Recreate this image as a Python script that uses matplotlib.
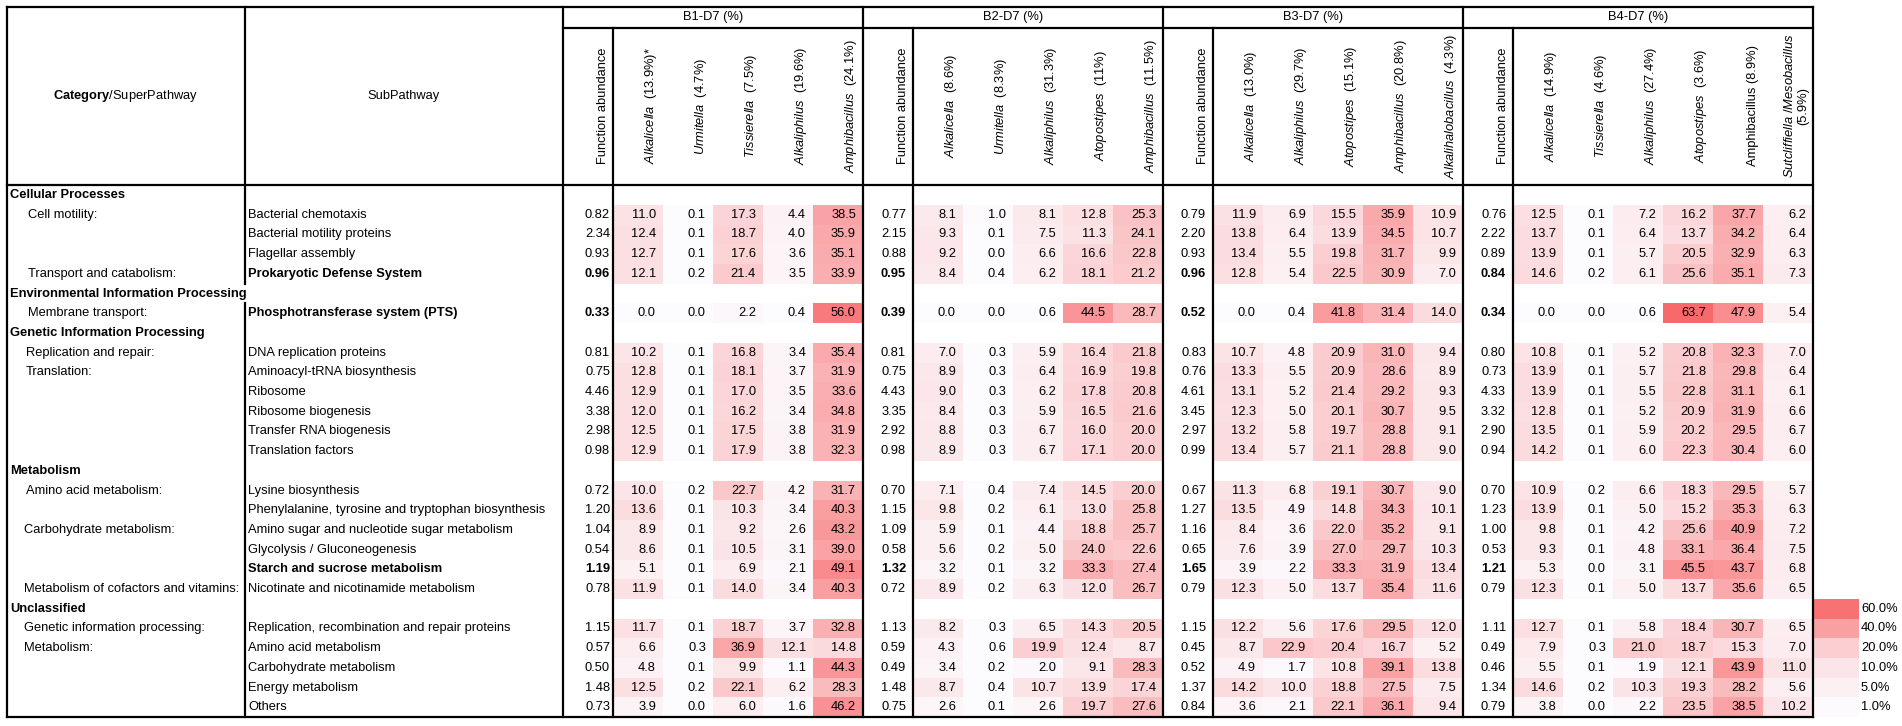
import numpy as np
import matplotlib
matplotlib.use("Agg")
import matplotlib.pyplot as plt
from matplotlib.colors import LinearSegmentedColormap, Normalize

plt.rcParams['font.family'] = ['Liberation Sans', 'DejaVu Sans']
plt.rcParams['mathtext.fontset'] = 'custom'
plt.rcParams['mathtext.rm'] = 'Liberation Sans'
plt.rcParams['mathtext.it'] = 'Liberation Sans:italic'
plt.rcParams['mathtext.bf'] = 'Liberation Sans:bold'

# ---- table content ----
categories = ["Cellular Processes", "Environmental Information Processing",
              "Genetic Information Processing", "Metabolism", "Unclassified"]
cat_sizes = [4, 1, 6, 6, 5]

super_labels = ["Cell motility:", "", "", "Transport and catabolism:",
                "Membrane transport:",
                "Replication and repair:", "Translation:", "", "", "", "",
                "Amino acid metabolism:", "", "Carbohydrate metabolism:", "", "",
                "Metabolism of cofactors and vitamins:",
                "Genetic information processing:", "Metabolism:", "", "", ""]

sub_labels = ["Bacterial chemotaxis", "Bacterial motility proteins", "Flagellar assembly",
              "Prokaryotic Defense System", "Phosphotransferase system (PTS)",
              "DNA replication proteins", "Aminoacyl-tRNA biosynthesis", "Ribosome",
              "Ribosome biogenesis", "Transfer RNA biogenesis", "Translation factors",
              "Lysine biosynthesis", "Phenylalanine, tyrosine and tryptophan biosynthesis",
              "Amino sugar and nucleotide sugar metabolism", "Glycolysis / Gluconeogenesis",
              "Starch and sucrose metabolism", "Nicotinate and nicotinamide metabolism",
              "Replication, recombination and repair proteins", "Amino acid metabolism",
              "Carbohydrate metabolism", "Energy metabolism", "Others"]
bold_rows = [3, 4, 15]

group_titles = ["B1-D7 (%)", "B2-D7 (%)", "B3-D7 (%)", "B4-D7 (%)"]

# B1-D7
b1_taxa = [r"$\mathit{Alkalicella}$  (13.9%)*", r"$\mathit{Urmitella}$  (4.7%)",
           r"$\mathit{Tissierella}$  (7.5%)", r"$\mathit{Alkaliphilus}$  (19.6%)",
           r"$\mathit{Amphibacillus}$  (24.1%)"]
b1_func = [0.82, 2.34, 0.93, 0.96, 0.33, 0.81, 0.75, 4.46, 3.38, 2.98, 0.98,
           0.72, 1.20, 1.04, 0.54, 1.19, 0.78, 1.15, 0.57, 0.50, 1.48, 0.73]
b1_alkalicella = [11.0, 12.4, 12.7, 12.1, 0.0, 10.2, 12.8, 12.9, 12.0, 12.5, 12.9,
                  10.0, 13.6, 8.9, 8.6, 5.1, 11.9, 11.7, 6.6, 4.8, 12.5, 3.9]
b1_urmitella = [0.1, 0.1, 0.1, 0.2, 0.0, 0.1, 0.1, 0.1, 0.1, 0.1, 0.1,
                0.2, 0.1, 0.1, 0.1, 0.1, 0.1, 0.1, 0.3, 0.1, 0.2, 0.0]
b1_tissierella = [17.3, 18.7, 17.6, 21.4, 2.2, 16.8, 18.1, 17.0, 16.2, 17.5, 17.9,
                  22.7, 10.3, 9.2, 10.5, 6.9, 14.0, 18.7, 36.9, 9.9, 22.1, 6.0]
b1_alkaliphilus = [4.4, 4.0, 3.6, 3.5, 0.4, 3.4, 3.7, 3.5, 3.4, 3.8, 3.8,
                   4.2, 3.4, 2.6, 3.1, 2.1, 3.4, 3.7, 12.1, 1.1, 6.2, 1.6]
b1_amphibacillus = [38.5, 35.9, 35.1, 33.9, 56.0, 35.4, 31.9, 33.6, 34.8, 31.9, 32.3,
                    31.7, 40.3, 43.2, 39.0, 49.1, 40.3, 32.8, 14.8, 44.3, 28.3, 46.2]

# B2-D7
b2_taxa = [r"$\mathit{Alkalicella}$  (8.6%)", r"$\mathit{Urmitella}$  (8.3%)",
           r"$\mathit{Alkaliphilus}$  (31.3%)", r"$\mathit{Atopostipes}$  (11%)",
           r"$\mathit{Amphibacillus}$  (11.5%)"]
b2_func = [0.77, 2.15, 0.88, 0.95, 0.39, 0.81, 0.75, 4.43, 3.35, 2.92, 0.98,
           0.70, 1.15, 1.09, 0.58, 1.32, 0.72, 1.13, 0.59, 0.49, 1.48, 0.75]
b2_alkalicella = [8.1, 9.3, 9.2, 8.4, 0.0, 7.0, 8.9, 9.0, 8.4, 8.8, 8.9,
                  7.1, 9.8, 5.9, 5.6, 3.2, 8.9, 8.2, 4.3, 3.4, 8.7, 2.6]
b2_urmitella = [1.0, 0.1, 0.0, 0.4, 0.0, 0.3, 0.3, 0.3, 0.3, 0.3, 0.3,
                0.4, 0.2, 0.1, 0.2, 0.1, 0.2, 0.3, 0.6, 0.2, 0.4, 0.1]
b2_alkaliphilus = [8.1, 7.5, 6.6, 6.2, 0.6, 5.9, 6.4, 6.2, 5.9, 6.7, 6.7,
                   7.4, 6.1, 4.4, 5.0, 3.2, 6.3, 6.5, 19.9, 2.0, 10.7, 2.6]
b2_atopostipes = [12.8, 11.3, 16.6, 18.1, 44.5, 16.4, 16.9, 17.8, 16.5, 16.0, 17.1,
                  14.5, 13.0, 18.8, 24.0, 33.3, 12.0, 14.3, 12.4, 9.1, 13.9, 19.7]
b2_amphibacillus = [25.3, 24.1, 22.8, 21.2, 28.7, 21.8, 19.8, 20.8, 21.6, 20.0, 20.0,
                    20.0, 25.8, 25.7, 22.6, 27.4, 26.7, 20.5, 8.7, 28.3, 17.4, 27.6]

# B3-D7
b3_taxa = [r"$\mathit{Alkalicella}$  (13.0%)", r"$\mathit{Alkaliphilus}$  (29.7%)",
           r"$\mathit{Atopostipes}$  (15.1%)", r"$\mathit{Amphibacillus}$  (20.8%)",
           r"$\mathit{Alkalihalobacillus}$  (4.3%)"]
b3_func = [0.79, 2.20, 0.93, 0.96, 0.52, 0.83, 0.76, 4.61, 3.45, 2.97, 0.99,
           0.67, 1.27, 1.16, 0.65, 1.65, 0.79, 1.15, 0.45, 0.52, 1.37, 0.84]
b3_alkalicella = [11.9, 13.8, 13.4, 12.8, 0.0, 10.7, 13.3, 13.1, 12.3, 13.2, 13.4,
                  11.3, 13.5, 8.4, 7.6, 3.9, 12.3, 12.2, 8.7, 4.9, 14.2, 3.6]
b3_alkaliphilus = [6.9, 6.4, 5.5, 5.4, 0.4, 4.8, 5.5, 5.2, 5.0, 5.8, 5.7,
                   6.8, 4.9, 3.6, 3.9, 2.2, 5.0, 5.6, 22.9, 1.7, 10.0, 2.1]
b3_atopostipes = [15.5, 13.9, 19.8, 22.5, 41.8, 20.9, 20.9, 21.4, 20.1, 19.7, 21.1,
                  19.1, 14.8, 22.0, 27.0, 33.3, 13.7, 17.6, 20.4, 10.8, 18.8, 22.1]
b3_amphibacillus = [35.9, 34.5, 31.7, 30.9, 31.4, 31.0, 28.6, 29.2, 30.7, 28.8, 28.8,
                    30.7, 34.3, 35.2, 29.7, 31.9, 35.4, 29.5, 16.7, 39.1, 27.5, 36.1]
b3_alkalihalobacillus = [10.9, 10.7, 9.9, 7.0, 14.0, 9.4, 8.9, 9.3, 9.5, 9.1, 9.0,
                         9.0, 10.1, 9.1, 10.3, 13.4, 11.6, 12.0, 5.2, 13.8, 7.5, 9.4]

# B4-D7
b4_taxa = [r"$\mathit{Alkalicella}$  (14.9%)", r"$\mathit{Tissierella}$  (4.6%)",
           r"$\mathit{Alkaliphilus}$  (27.4%)", r"$\mathit{Atopostipes}$  (3.6%)",
           "Amphibacillus (8.9%)", "$\\mathit{Sutcliffiella\\ /Mesobacillus}$\n(5.9%)"]
b4_func = [0.76, 2.22, 0.89, 0.84, 0.34, 0.80, 0.73, 4.33, 3.32, 2.90, 0.94,
           0.70, 1.23, 1.00, 0.53, 1.21, 0.79, 1.11, 0.49, 0.46, 1.34, 0.79]
b4_alkalicella = [12.5, 13.7, 13.9, 14.6, 0.0, 10.8, 13.9, 13.9, 12.8, 13.5, 14.2,
                  10.9, 13.9, 9.8, 9.3, 5.3, 12.3, 12.7, 7.9, 5.5, 14.6, 3.8]
b4_tissierella = [0.1, 0.1, 0.1, 0.2, 0.0, 0.1, 0.1, 0.1, 0.1, 0.1, 0.1,
                  0.2, 0.1, 0.1, 0.1, 0.0, 0.1, 0.1, 0.3, 0.1, 0.2, 0.0]
b4_alkaliphilus = [7.2, 6.4, 5.7, 6.1, 0.6, 5.2, 5.7, 5.5, 5.2, 5.9, 6.0,
                   6.6, 5.0, 4.2, 4.8, 3.1, 5.0, 5.8, 21.0, 1.9, 10.3, 2.2]
b4_atopostipes = [16.2, 13.7, 20.5, 25.6, 63.7, 20.8, 21.8, 22.8, 20.9, 20.2, 22.3,
                  18.3, 15.2, 25.6, 33.1, 45.5, 13.7, 18.4, 18.7, 12.1, 19.3, 23.5]
b4_amphibacillus = [37.7, 34.2, 32.9, 35.1, 47.9, 32.3, 29.8, 31.1, 31.9, 29.5, 30.4,
                    29.5, 35.3, 40.9, 36.4, 43.7, 35.6, 30.7, 15.3, 43.9, 28.2, 38.5]
b4_sutcliffiella = [6.2, 6.4, 6.3, 7.3, 5.4, 7.0, 6.4, 6.1, 6.6, 6.7, 6.0,
                    5.7, 6.3, 7.2, 7.5, 6.8, 6.5, 6.5, 7.0, 11.0, 5.6, 10.2]

legend_values = [60.0, 40.0, 20.0, 10.0, 5.0, 1.0]

groups = [
    (group_titles[0], b1_taxa, b1_func,
     [b1_alkalicella, b1_urmitella, b1_tissierella, b1_alkaliphilus, b1_amphibacillus]),
    (group_titles[1], b2_taxa, b2_func,
     [b2_alkalicella, b2_urmitella, b2_alkaliphilus, b2_atopostipes, b2_amphibacillus]),
    (group_titles[2], b3_taxa, b3_func,
     [b3_alkalicella, b3_alkaliphilus, b3_atopostipes, b3_amphibacillus, b3_alkalihalobacillus]),
    (group_titles[3], b4_taxa, b4_func,
     [b4_alkalicella, b4_tissierella, b4_alkaliphilus, b4_atopostipes, b4_amphibacillus,
      b4_sutcliffiella]),
]

# ---- layout (pixels) ----
FS = 9.3
X_LEFT, X_CAT, X_SUB = 7, 245, 563
COL_W = 50
Y_TOP, Y_GRP, Y_HEAD = 7, 28, 185.2
ROW_H = 19.7
LW = 1.6

table_rows = []
k = 0
for cat, n in zip(categories, cat_sizes):
    table_rows.append(('cat', cat))
    for _ in range(n):
        table_rows.append(('data', k))
        k += 1
n_rows = len(table_rows)
data_pos = np.array([r for r, (kind, _) in enumerate(table_rows) if kind == 'data'])
row_edges = Y_HEAD + ROW_H * np.arange(n_rows + 1)
row_mid = (row_edges[:-1] + row_edges[1:]) / 2
Y_BOT = row_edges[-1]

cmap = LinearSegmentedColormap.from_list('wr', ['#FCFCFF', '#F8696B'])
vmax = max(max(v) for g in groups for v in g[3])
norm = Normalize(0, vmax)

fig = plt.figure(figsize=(19.02, 7.26), dpi=100)
ax = fig.add_axes([0, 0, 1, 1])
ax.set_xlim(0, 1902)
ax.set_ylim(726, 0)
ax.axis('off')

# left columns
ax.text((X_LEFT + X_CAT) / 2, 96, r"$\mathbf{Category}$/SuperPathway", ha='center', va='center', fontsize=FS)
ax.text((X_CAT + X_SUB) / 2, 96, "SubPathway", ha='center', va='center', fontsize=FS)
indent = {0: 28, 1: 28, 2: 26, 3: 24, 4: 24}
for r, (kind, val) in enumerate(table_rows):
    if kind == 'cat':
        ax.text(10, row_mid[r], val, ha='left', va='center', fontsize=FS, fontweight='bold')
        cur_cat = categories.index(val)
    else:
        if super_labels[val]:
            x_ind = indent[cur_cat]
            if super_labels[val] == "Amino acid metabolism:":
                x_ind = 26
            ax.text(x_ind, row_mid[r], super_labels[val], ha='left', va='center', fontsize=FS)
        ax.text(248, row_mid[r], sub_labels[val], ha='left', va='center', fontsize=FS,
                fontweight='bold' if val in bold_rows else 'normal')

# groups
x = X_SUB
group_bounds = [x]
func_lines = []
for gi, (title, taxa, func, cols) in enumerate(groups):
    n_t = len(cols)
    x_func_r = x + COL_W
    x_end = x_func_r + COL_W * n_t
    func_lines.append(x_func_r)
    ax.text((x + x_end) / 2, 17, title, ha='center', va='center', fontsize=FS)

    # heat cells
    Z = np.full((n_rows, n_t), np.nan)
    Z[data_pos, :] = np.array(cols).T
    xe = x_func_r + COL_W * np.arange(n_t + 1)
    ax.pcolormesh(xe, row_edges, np.ma.masked_invalid(Z), cmap=cmap, norm=norm,
                  edgecolors='none', antialiased=False, zorder=1)

    # header labels
    ax.text(x_func_r - 4, 106, "Function abundance", rotation=90, ha='right', va='center', fontsize=FS)
    for j, lab in enumerate(taxa):
        ax.text(x_func_r + COL_W * (j + 1) - 4, 106, lab, rotation=90, ha='right', va='center',
                fontsize=FS, multialignment='center', linespacing=1.1)

    # values
    pad = 3 if gi == 0 else 7
    for i, r in enumerate(data_pos):
        ax.text(x_func_r - pad, row_mid[r], f"{func[i]:.2f}", ha='right', va='center', fontsize=FS,
                fontweight='bold' if i in bold_rows else 'normal', zorder=3)
        for j in range(n_t):
            ax.text(x_func_r + COL_W * (j + 1) - 7, row_mid[r], f"{cols[j][i]:.1f}",
                    ha='right', va='center', fontsize=FS, zorder=3)
    x = x_end
    group_bounds.append(x)
X_RIGHT = x

# legend swatches
leg_rows = np.arange(n_rows - len(legend_values), n_rows)
Zl = np.array(legend_values).reshape(-1, 1)
ax.pcolormesh([X_RIGHT + 1, X_RIGHT + 46], row_edges[leg_rows[0]:], Zl, cmap=cmap, norm=norm,
              edgecolors='none', antialiased=False, zorder=1)
for r, v in zip(leg_rows, legend_values):
    ax.text(X_RIGHT + 48, row_mid[r], f"{v:.1f}%", ha='left', va='center', fontsize=FS)

# grid lines
kw = dict(color='black', lw=LW, zorder=4, solid_capstyle='projecting')
for yy in [Y_TOP, Y_HEAD, Y_BOT]:
    ax.plot([X_LEFT, X_RIGHT], [yy, yy], **kw)
ax.plot([X_SUB, X_RIGHT], [Y_GRP, Y_GRP], **kw)
for xx in [X_LEFT, X_SUB] + group_bounds[1:]:
    ax.plot([xx, xx], [Y_TOP, Y_BOT], **kw)
for xx in func_lines:
    ax.plot([xx, xx], [Y_GRP, Y_BOT], **kw)
env_r = [r for r, t in enumerate(table_rows) if t == ('cat', categories[1])][0]
ax.plot([X_CAT, X_CAT], [Y_TOP, row_edges[env_r]], **kw)
ax.plot([X_CAT, X_CAT], [row_edges[env_r + 1], Y_BOT], **kw)

fig.savefig("out.png", dpi=100)
